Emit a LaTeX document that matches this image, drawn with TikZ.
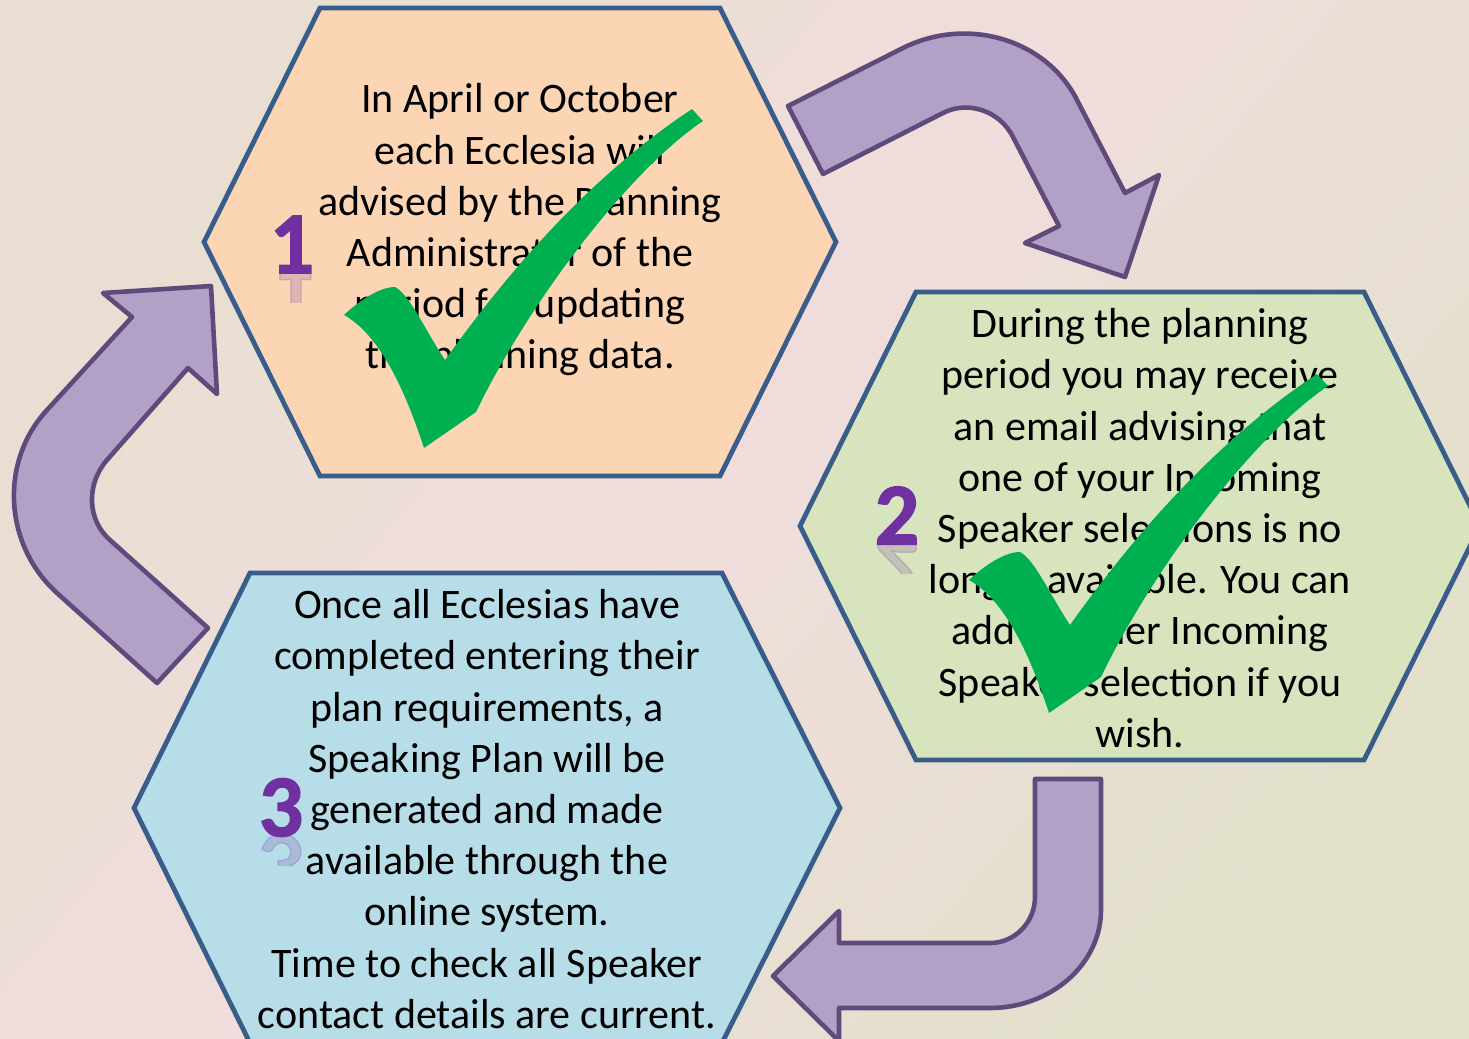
\documentclass[tikz,border=0pt]{standalone}
\usepackage{fontspec}
\setmainfont{Carlito}
\newfontfamily\numfont{Carlito Bold}[FakeBold=1.6]
\usepackage[dvipsnames]{xcolor}
\usetikzlibrary{calc}

% 颜色
\definecolor{hexline}{RGB}{56,93,138}
\definecolor{hexpeach}{RGB}{252,213,181}
\definecolor{hexgreen}{RGB}{215,228,189}
\definecolor{hexblue}{RGB}{183,222,232}
\definecolor{arrowfill}{RGB}{178,161,199}
\definecolor{arrowline}{RGB}{96,74,123}
\definecolor{tickgreen}{RGB}{0,176,80}
\definecolor{numpurple}{RGB}{112,48,160}
\definecolor{bgleft}{RGB}{233,222,209}
\definecolor{bgmid}{RGB}{240,221,220}
\definecolor{bgright}{RGB}{226,224,203}

% 背景渐变
\pgfdeclarehorizontalshading{bgshade}{100bp}{color(0bp)=(bgleft); color(25bp)=(bgleft); color(48bp)=(bgmid); color(75bp)=(bgright); color(100bp)=(bgright)}

% 对勾的轮廓
\newcommand{\tickpath}{(692,109) -- (703,121) .. controls (630,170) and (530,300) .. (476,412) -- (424,448) .. controls (405,390) and (380,335) .. (344,315) .. controls (360,300) and (380,287) .. (395,287) .. controls (410,295) and (425,330) .. (445,360) .. controls (520,255) and (600,170) .. (692,109) -- cycle}

\begin{document}
\begin{tikzpicture}[x=0.5pt,y=-0.5pt,
    hexa/.style={draw=hexline, line width=2.4pt, line join=miter},
    bendarrow/.style={draw=arrowline, fill=arrowfill, line width=2.3pt, line join=round},
    greentick/.style={fill=tickgreen},
    steptext/.style={align=center, inner sep=0pt, font=\fontsize{21}{25.6}\selectfont},
    stepnum/.style={inner sep=0pt, text=numpurple, font=\numfont\fontsize{44}{44}\selectfont}]
                % 画布大小
                \useasboundingbox (0,0) rectangle (1469,1039);
                \clip (0,0) rectangle (1469,1039);

                % 背景
                \shade[shading=bgshade, shading angle=-40] (0,0) rectangle (1469,1039);

                % 三个六边形
                \draw[hexa, fill=hexpeach] (320,8) -- (720,8) -- (836,242) -- (720,476) -- (320,476) -- (204,242) -- cycle;
                \draw[hexa, fill=hexgreen] (916,292) -- (1364,292) -- (1480,526) -- (1364,760) -- (916,760) -- (800,526) -- cycle;
                \draw[hexa, fill=hexblue] (250,573) -- (722,573) -- (840,808) -- (722,1043) -- (250,1043) -- (134,808) -- cycle;

                % 文字
                \node[steptext] (t1) at (520,230) {In April or October\\each Ecclesia will\\advised by the Planning\\Administrator of the\\period for updating\\the planning data.};
                \node[steptext] (t2) at (1140,528) {During the planning\\period you may receive\\an email advising that\\one of your Incoming\\Speaker selections is no\\longer available. You can\\add another Incoming\\Speaker selection if you\\wish.};
                \node[steptext] (t3) at (487,809) {Once all Ecclesias have\\completed entering their\\plan requirements, a\\Speaking Plan will be\\generated and made\\available through the\\online system.\\Time to check all Speaker\\contact details are current.};

                % 编号及倒影
                \node[stepnum] (n1) at (292,244.5) {1};
                \node[stepnum] (n2) at (897,515.5) {2};
                \node[stepnum] (n3) at (281,807.5) {3};
                \begin{scope}
                    \clip (250,273) rectangle (335,302);
                    \node[stepnum, yscale=-1, opacity=0.2] (r1) at (292,300.5) {1};
                \end{scope}
                \begin{scope}
                    \clip (860,544) rectangle (940,573);
                    \node[stepnum, yscale=-1, opacity=0.2] (r2) at (897,571.5) {2};
                \end{scope}
                \begin{scope}
                    \clip (250,836) rectangle (320,865);
                    \node[stepnum, yscale=-1, opacity=0.2] (r3) at (281,863.5) {3};
                \end{scope}

                % 绿色对勾
                \fill[greentick] \tickpath;
                \fill[greentick, shift={(625,265)}] \tickpath;

                % 弯箭头 1 -> 2
                \draw[bendarrow] (788,106) -- (903,48) .. controls (967,16) and (1046,39) .. (1077,100) -- (1125,193) -- (1159,175) -- (1125,277) -- (1025,243) -- (1059,226) -- (1013,137) .. controls (1000,111) and (968,100) .. (943,113) -- (823,174) -- cycle;
                % 弯箭头 2 -> 3
                \draw[bendarrow] (1035,779) -- (1101,779) -- (1101,910) .. controls (1101,964) and (1051,1008) .. (990,1008) -- (839,1008) -- (839,1041) -- (773,976) -- (839,911) -- (839,943) -- (990,943) .. controls (1015,943) and (1035,922) .. (1035,897) -- cycle;
                % 弯箭头 3 -> 1
                \draw[bendarrow] (157,683) -- (208,628) -- (110,540) .. controls (87,520) and (86,484) .. (107,460) -- (188,368) -- (217,394) -- (211,286) -- (103,293) -- (132,317) -- (47,410) .. controls (-1,462) and (4,545) .. (57,593) -- cycle;
            \end{tikzpicture}
\end{document}
